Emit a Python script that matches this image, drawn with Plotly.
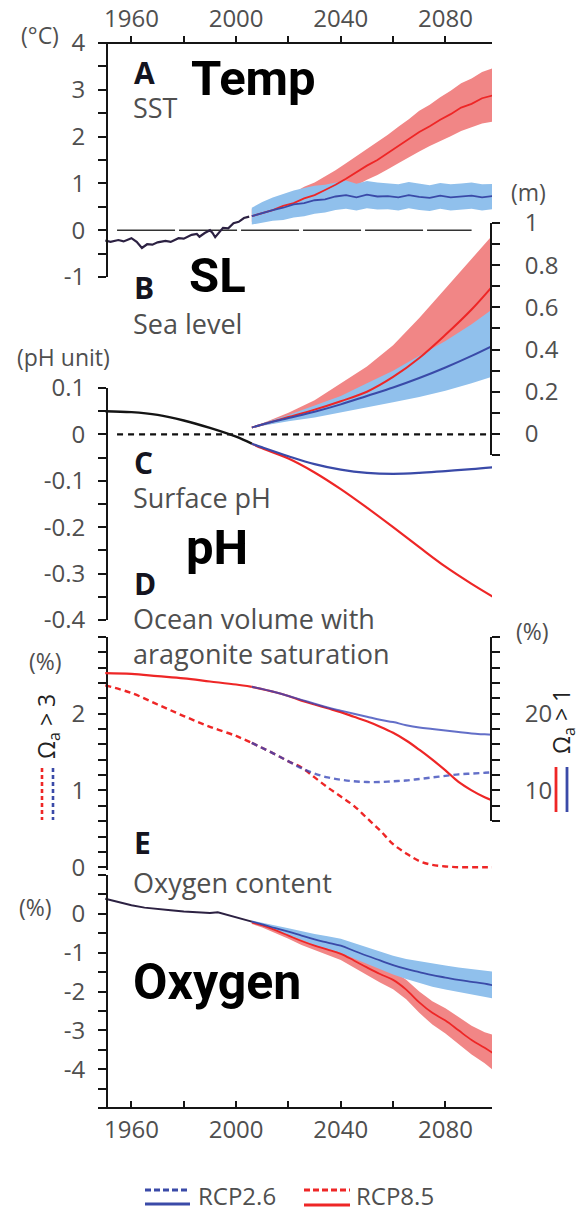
import plotly.graph_objects as go

W, H = 576, 1212

# ---------------- data ----------------
# A  sea surface temperature anomaly (deg C)
sst_hist_years = [1950, 1952, 1955, 1957, 1960, 1962, 1964, 1966, 1968, 1970, 1973, 1975, 1978, 1980,
                  1983, 1985, 1986, 1988, 1990, 1991, 1992, 1994, 1995, 1997, 1999, 2001, 2003, 2005]
sst_hist = [-0.22, -0.25, -0.21, -0.24, -0.17, -0.25, -0.38, -0.30, -0.31, -0.26, -0.23, -0.25, -0.17, -0.18,
            -0.10, -0.08, -0.14, -0.06, 0.00, -0.06, -0.15, -0.02, 0.05, 0.04, 0.15, 0.18, 0.26, 0.29]
sst_years = [2006, 2010, 2014, 2018, 2022, 2026, 2030, 2034, 2038, 2042, 2046, 2050, 2054,
             2058, 2062, 2066, 2070, 2074, 2078, 2082, 2086, 2090, 2094, 2098, 2100]
sst85 = [0.30, 0.37, 0.43, 0.52, 0.58, 0.68, 0.75, 0.86, 0.97, 1.10, 1.24, 1.38, 1.50,
         1.65, 1.80, 1.95, 2.10, 2.22, 2.36, 2.48, 2.62, 2.70, 2.82, 2.88, 2.92]
sst85_hi = [0.45, 0.55, 0.62, 0.74, 0.80, 0.93, 1.02, 1.15, 1.28, 1.43, 1.58, 1.74, 1.88,
            2.04, 2.21, 2.37, 2.55, 2.68, 2.84, 2.98, 3.14, 3.24, 3.38, 3.46, 3.55]
sst85_lo = [0.18, 0.22, 0.28, 0.34, 0.40, 0.47, 0.53, 0.62, 0.72, 0.83, 0.95, 1.08, 1.18,
            1.30, 1.43, 1.56, 1.68, 1.80, 1.91, 2.01, 2.12, 2.20, 2.28, 2.32, 2.33]
sst26 = [0.30, 0.37, 0.43, 0.48, 0.55, 0.58, 0.64, 0.66, 0.72, 0.75, 0.70, 0.76, 0.72,
         0.73, 0.70, 0.75, 0.71, 0.69, 0.74, 0.70, 0.72, 0.74, 0.70, 0.73, 0.70]
sst26_hi = [0.48, 0.60, 0.70, 0.78, 0.85, 0.90, 0.95, 0.97, 1.02, 1.06, 0.99, 1.05, 1.02,
            1.00, 0.98, 1.03, 1.00, 0.96, 1.01, 0.98, 1.00, 1.02, 0.98, 0.99, 0.97]
sst26_lo = [0.12, 0.16, 0.20, 0.22, 0.27, 0.30, 0.35, 0.38, 0.43, 0.46, 0.42, 0.47, 0.44,
            0.45, 0.42, 0.47, 0.43, 0.41, 0.46, 0.42, 0.44, 0.46, 0.42, 0.45, 0.42]

# B  sea level rise (m)
sl_years = [2006, 2010, 2020, 2030, 2040, 2050, 2060, 2070, 2080, 2090, 2100]
sl85 = [0.03, 0.045, 0.08, 0.115, 0.155, 0.20, 0.27, 0.36, 0.47, 0.59, 0.73]
sl85_hi = [0.03, 0.05, 0.10, 0.16, 0.24, 0.32, 0.42, 0.55, 0.69, 0.83, 0.97]
sl85_lo = [0.03, 0.04, 0.065, 0.09, 0.12, 0.15, 0.19, 0.25, 0.32, 0.41, 0.52]
sl26 = [0.03, 0.045, 0.075, 0.105, 0.14, 0.18, 0.22, 0.265, 0.315, 0.37, 0.43]
sl26_hi = [0.03, 0.05, 0.09, 0.135, 0.18, 0.24, 0.30, 0.37, 0.44, 0.52, 0.61]
sl26_lo = [0.03, 0.04, 0.06, 0.078, 0.10, 0.125, 0.15, 0.175, 0.205, 0.24, 0.28]

# C  surface pH change (pH unit)
ph_hist_years = [1950, 1960, 1970, 1980, 1990, 2000, 2006]
ph_hist = [0.05, 0.048, 0.042, 0.03, 0.014, -0.005, -0.02]
ph_years = [2006, 2010, 2020, 2030, 2040, 2050, 2060, 2070, 2080, 2090, 2100]
ph26 = [-0.02, -0.028, -0.047, -0.064, -0.076, -0.083, -0.085, -0.083, -0.079, -0.075, -0.07]
ph85 = [-0.02, -0.03, -0.052, -0.082, -0.118, -0.158, -0.20, -0.243, -0.285, -0.322, -0.356]

# D  ocean volume with aragonite saturation (%)
arag_hist_years = [1950, 1960, 1970, 1980, 1990, 2000, 2006]
omega1_hist = [25.3, 25.2, 24.9, 24.6, 24.2, 23.8, 23.5]
omega3_hist = [2.37, 2.27, 2.12, 1.97, 1.83, 1.71, 1.62]
arag_years = [2006, 2015, 2020, 2025, 2030, 2035, 2040, 2045, 2050, 2055,
              2060, 2065, 2070, 2075, 2080, 2085, 2090, 2095, 2100]
omega1_26 = [23.5, 22.8, 22.3, 21.8, 21.3, 20.8, 20.4, 20.0, 19.6, 19.2,
             18.9, 18.5, 18.2, 18.0, 17.8, 17.6, 17.4, 17.3, 17.2]
omega1_85 = [23.5, 22.8, 22.3, 21.7, 21.2, 20.7, 20.2, 19.6, 19.0, 18.3,
             17.5, 16.5, 15.3, 14.0, 12.6, 11.1, 10.0, 9.1, 8.4]
omega3_26 = [1.62, 1.47, 1.38, 1.29, 1.22, 1.17, 1.14, 1.12, 1.11, 1.11,
             1.12, 1.13, 1.15, 1.17, 1.19, 1.21, 1.22, 1.23, 1.24]
omega3_85 = [1.62, 1.47, 1.38, 1.30, 1.17, 1.04, 0.92, 0.80, 0.64, 0.48,
             0.30, 0.18, 0.08, 0.03, 0.01, 0.0, 0.0, 0.0, 0.0]

# E  oxygen content change (%)
o2_hist_years = [1950, 1955, 1960, 1965, 1970, 1975, 1980, 1985, 1990, 1993, 1996, 2000, 2006]
o2_hist = [0.39, 0.30, 0.22, 0.16, 0.12, 0.09, 0.06, 0.04, 0.02, 0.04, -0.02, -0.08, -0.20]
o2_years = [2006, 2010, 2015, 2020, 2025, 2030, 2035, 2040, 2045, 2050,
            2055, 2060, 2065, 2070, 2075, 2080, 2085, 2090, 2095, 2100]
o2_26 = [-0.20, -0.27, -0.37, -0.46, -0.56, -0.66, -0.74, -0.82, -0.95, -1.08,
         -1.20, -1.32, -1.42, -1.50, -1.58, -1.64, -1.70, -1.75, -1.80, -1.87]
o2_26_hi = [-0.17, -0.22, -0.30, -0.37, -0.45, -0.52, -0.58, -0.64, -0.75, -0.86,
            -0.97, -1.08, -1.16, -1.22, -1.28, -1.33, -1.38, -1.42, -1.46, -1.50]
o2_26_lo = [-0.23, -0.32, -0.44, -0.55, -0.67, -0.80, -0.90, -1.00, -1.15, -1.30,
            -1.43, -1.56, -1.68, -1.78, -1.88, -1.95, -2.02, -2.08, -2.14, -2.20]
o2_85 = [-0.22, -0.30, -0.42, -0.56, -0.70, -0.82, -0.92, -1.03, -1.20, -1.38,
         -1.55, -1.70, -1.95, -2.28, -2.55, -2.75, -3.00, -3.25, -3.45, -3.67]
o2_85_hi = [-0.18, -0.25, -0.35, -0.47, -0.59, -0.69, -0.78, -0.87, -1.02, -1.18,
            -1.33, -1.47, -1.70, -2.00, -2.25, -2.43, -2.65, -2.88, -3.05, -3.15]
o2_85_lo = [-0.26, -0.35, -0.49, -0.64, -0.80, -0.94, -1.06, -1.19, -1.38, -1.58,
            -1.77, -1.94, -2.20, -2.55, -2.85, -3.08, -3.35, -3.62, -3.85, -4.12]

# tick positions and labels
year_ticks = [1960, 1980, 2000, 2020, 2040, 2060, 2080]
year_labels = ["1960", "", "2000", "", "2040", "", "2080"]
sst_ticks = [-1, -0.5, 0, 0.5, 1, 1.5, 2, 2.5, 3, 3.5, 4]
sst_labels = ["-1", "", "0", "", "1", "", "2", "", "3", "", "4"]
sl_ticks = [-0.1, 0, 0.1, 0.2, 0.3, 0.4, 0.5, 0.6, 0.7, 0.8, 0.9, 1.0]
sl_labels = ["", "0", "", "0.2", "", "0.4", "", "0.6", "", "0.8", "", "1"]
ph_ticks = [-0.4, -0.35, -0.3, -0.25, -0.2, -0.15, -0.1, -0.05, 0, 0.05, 0.1]
ph_labels = ["-0.4", "", "-0.3", "", "-0.2", "", "-0.1", "", "0", "", "0.1"]
o3_ticks = [0, 0.2, 0.4, 0.6, 0.8, 1.0, 1.2, 1.4, 1.6, 1.8, 2.0, 2.2, 2.4, 2.6, 2.8, 3.0]
o3_labels = ["0", "", "", "", "", "1", "", "", "", "", "2", "", "", "", "", ""]
o1_ticks = [6, 8, 10, 12, 14, 16, 18, 20, 22, 24, 26, 28, 30]
o1_labels = ["", "", "10", "", "", "", "", "20", "", "", "", "", ""]
o2_ticks = [-5, -4.5, -4, -3.5, -3, -2.5, -2, -1.5, -1, -0.5, 0, 0.5, 1]
o2_labels = ["", "", "-4", "", "-3", "", "-2", "", "-1", "", "0", "", ""]

# ---------------- styling ----------------
RED = "#ee2626"
RED_BAND = "#f18686"
BLUE = "#3a4aa8"
BLUE_D = "rgba(55,70,185,0.78)"
BLUE_BAND = "#90c0ec"
HIST = "#2c2142"
AXC = "#151515"
GREY = "#4f4f4f"
SANS = "Open Sans"


def py(y):
    return 1 - y / H


def px(x):
    return x / W


X_LEFT, X_RIGHT = 99, 492
AX_L, AX_R = 107, 491
YEAR_RANGE = [1947.6, 2097.8]

fig = go.Figure()


def band(xs, hi, lo, color, ax):
    fig.add_trace(go.Scatter(x=xs + xs[::-1], y=hi + lo[::-1], fill="toself", fillcolor=color,
                             line=dict(width=0), mode="lines", hoverinfo="skip",
                             xaxis="x", yaxis=ax))


def line(xs, ys, color, ax, width=2.0, dash=None, shape="linear"):
    fig.add_trace(go.Scatter(x=xs, y=ys, mode="lines", hoverinfo="skip",
                             line=dict(color=color, width=width, dash=dash, shape=shape),
                             xaxis="x", yaxis=ax))


# A: SST
line([1954.5, 2090], [0, 0], "#333333", "y", width=1.4, dash="58px,4px")
band(sst_years, sst85_hi, sst85_lo, RED_BAND, "y")
band(sst_years, sst26_hi, sst26_lo, BLUE_BAND, "y")
line(sst_years, sst85, RED, "y", 1.8)
line(sst_years, sst26, BLUE, "y", 1.8)
line(sst_hist_years, sst_hist, HIST, "y", 2.2)

# B: sea level
band(sl_years, sl85_hi, sl85_lo, RED_BAND, "y2")
band(sl_years, sl26_hi, sl26_lo, BLUE_BAND, "y2")
line(sl_years, sl85, RED, "y2", 2.0, shape="spline")
line(sl_years, sl26, BLUE, "y2", 2.0, shape="spline")

# C: surface pH
line([1954.5, 2097], [0, 0], "#111111", "y3", width=2.4, dash="6px,5px")
line(ph_years, ph85, RED, "y3", 2.2, shape="spline")
line(ph_years, ph26, BLUE, "y3", 2.2, shape="spline")
line(ph_hist_years, ph_hist, "#141414", "y3", 2.4, shape="spline")

# D: aragonite saturation (dashed: Omega>3 on left axis, solid: Omega>1 on right axis)
line(arag_hist_years, omega3_hist, RED, "y4", 2.4, dash="6px,4px", shape="spline")
line(arag_years, omega3_85, RED, "y4", 2.4, dash="6px,4px", shape="spline")
line(arag_years, omega3_26, BLUE_D, "y4", 2.4, dash="6px,4px", shape="spline")
line(arag_hist_years, omega1_hist, RED, "y5", 2.2, shape="spline")
line(arag_years, omega1_85, RED, "y5", 2.2, shape="spline")
line(arag_years, omega1_26, BLUE_D, "y5", 2.0, shape="spline")

# E: oxygen
band(o2_years, o2_85_hi, o2_85_lo, RED_BAND, "y6")
band(o2_years, o2_26_hi, o2_26_lo, BLUE_BAND, "y6")
line(o2_years, o2_85, RED, "y6", 1.8, shape="spline")
line(o2_years, o2_26, BLUE, "y6", 1.8, shape="spline")
line(o2_hist_years, o2_hist, HIST, "y6", 2.0)

# empty trace so the top year axis is drawn
fig.add_trace(go.Scatter(x=[], y=[], xaxis="x2", yaxis="y", showlegend=False))

tickfont = dict(family=SANS, size=24, color=GREY)


def yaxis(top, bottom, rng, vals, texts, side="left"):
    return dict(domain=[py(bottom), py(top)], range=rng, anchor="free",
                position=px(AX_L if side == "left" else AX_R), side=side,
                showline=True, linecolor=AXC, linewidth=1.8,
                ticks="outside", ticklen=8, tickwidth=1.6, tickcolor=AXC,
                tickmode="array", tickvals=vals, ticktext=texts, tickfont=tickfont,
                ticklabelstandoff=8 if side == "left" else 20,
                showgrid=False, zeroline=False, fixedrange=True, automargin=False)


xcommon = dict(range=YEAR_RANGE, showline=True, linecolor=AXC, linewidth=1.8,
               tickmode="array", tickvals=year_ticks, ticktext=year_labels, tickfont=tickfont,
               ticklen=6, tickwidth=1.6, tickcolor=AXC, showgrid=False, zeroline=False,
               fixedrange=True, automargin=False)

fig.update_layout(
    template="none",
    width=W, height=H, margin=dict(l=0, r=0, t=0, b=0, pad=0, autoexpand=False),
    paper_bgcolor="white", plot_bgcolor="rgba(0,0,0,0)", showlegend=False,
    font=dict(family=SANS, color=GREY),
    xaxis=dict(domain=[px(X_LEFT), px(X_RIGHT)], anchor="free", position=py(1108),
               ticks="inside", ticklabelstandoff=0, **xcommon),
    xaxis2=dict(overlaying="x", side="top", anchor="free", position=py(43),
                ticks="outside", ticklabelstandoff=0, **xcommon),
    yaxis=yaxis(43, 277, [-1, 4], sst_ticks, sst_labels),
    yaxis2=yaxis(223, 455, [-0.1, 1.0], sl_ticks, sl_labels, side="right"),
    yaxis3=yaxis(388, 620, [-0.4, 0.1], ph_ticks, ph_labels),
    yaxis4=yaxis(637, 869.5, [-0.03, 3.0], o3_ticks, o3_labels),
    yaxis5=yaxis(637, 821, [6, 30], o1_ticks, o1_labels, side="right"),
    yaxis6=yaxis(875, 1108, [-5, 1], o2_ticks, o2_labels),
)

annotations = []


def text(x, y, s, size, color=GREY, family=SANS, anchor="left", angle=0, bold=False):
    annotations.append(dict(x=px(x), y=py(y), xref="paper", yref="paper", text=s,
                            showarrow=False, xanchor=anchor, yanchor="middle", textangle=angle,
                            align="left", font=dict(family=family, size=size, color=color,
                                                    weight="bold" if bold else "normal")))


# units
text(40, 35, "(°C)", 23, anchor="center")
text(528, 192, "(m)", 23, anchor="center")
text(63, 357, "(pH unit)", 23, anchor="center")
text(45, 661, "(%)", 23, anchor="center")
text(532, 631, "(%)", 23, anchor="center")
text(35, 907, "(%)", 23, anchor="center")

# panel letters and titles
for lx, ly, letter in [(132, 72, "A"), (132, 287, "B"), (132, 462, "C"), (132, 583, "D"), (132, 843, "E")]:
    text(lx, ly, letter, 30, color="#141420", bold=True)
text(131, 108, "SST", 27)
text(131, 323, "Sea level", 27)
text(131, 498, "Surface pH", 27)
text(131, 636, "Ocean volume with<br>aragonite saturation", 27)
text(131, 882, "Oxygen content", 27)

# large quantity names
BIG = "Roboto"
text(189, 78, "Temp", 49, color="black", family=BIG, bold=True)
text(187, 275, "SL", 49, color="black", family=BIG, bold=True)
text(184, 547, "pH", 49, color="black", family=BIG, bold=True)
text(131, 982, "Oxygen", 50, color="black", family=BIG, bold=True)

# saturation-state labels beside panel D
text(47, 727, "Ω<sub>a</sub> > 3", 23, color="#222222", anchor="center", angle=-90)
text(562, 722, "Ω<sub>a</sub> > 1", 23, color="#222222", anchor="center", angle=-90)

# legend labels
text(196, 1195, "RCP2.6", 24)
text(354, 1195, "RCP8.5", 24)

fig.update_layout(annotations=annotations)

shapes = []


def seg(x0, y0, x1, y1, color, width, dash="solid"):
    shapes.append(dict(type="line", xref="paper", yref="paper", x0=px(x0), y0=py(y0),
                       x1=px(x1), y1=py(y1), line=dict(color=color, width=width, dash=dash)))


# key strokes for the Omega labels
seg(42, 768, 42, 820, RED, 2.6, "4px,3px")
seg(53, 768, 53, 820, BLUE, 2.6, "4px,3px")
seg(556, 767, 556, 812, RED, 2.8)
seg(567, 767, 567, 812, BLUE, 2.8)

# legend keys
seg(145, 1190, 190, 1190, BLUE, 2.8, "6px,3px")
seg(145, 1204, 190, 1204, BLUE, 2.8)
seg(304, 1190, 350, 1190, RED, 2.8, "6px,3px")
seg(304, 1205, 350, 1205, RED, 2.8)

fig.update_layout(shapes=shapes)

fig.write_html("out.html")
